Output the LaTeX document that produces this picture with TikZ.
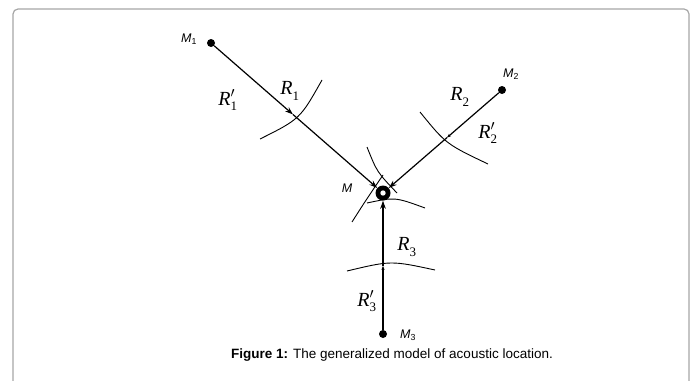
\documentclass[tikz,border=0pt]{standalone}
\usepackage{fontspec}
\setmainfont{Liberation Sans}
\newfontfamily\tms{Liberation Serif}
\newcommand\Rlab[2]{{\tms\itshape R}\ensuremath{^{#1}_{\mbox{\tms\fontsize{13}{13}\selectfont #2}}}}
\usetikzlibrary{arrows.meta}
\begin{document}
\begin{tikzpicture}[x=1pt,y=-1pt,
  conn/.style={line width=1.2pt},
  arr/.style={-{Stealth[length=8pt,width=5.5pt]}},
  sarr/.style={-{Stealth[length=4pt,width=3pt]}},
  arcline/.style={line width=0.9pt},
  dot/.style={circle,fill=black,inner sep=0pt,minimum size=8pt},
  lab/.style={inner sep=0pt},
  mlab/.style={lab,font=\fontsize{12.5}{14}\selectfont\itshape},
  rlab/.style={lab,font=\fontsize{20}{22}\selectfont}]
\useasboundingbox (0,0) rectangle (695,380);
\begin{scope}
\clip (0,0) rectangle (695,380);
\draw[black!35, line width=1.2pt, rounded corners=5pt] (13,400) -- (13,9) -- (689,9) -- (689,400);
\end{scope}
% stations
\node[dot] (M1) at (211,43) {};
\node[dot] (M2) at (502,90) {};
\node[dot] (M3) at (383,334) {};
\node[circle,fill=black,minimum size=15pt,inner sep=0pt] (M) at (383,193) {};
\fill[white] (M.center) circle (2.7);
% intersection points
\coordinate (P1) at (293,114.5);
\coordinate (P2) at (447,137.6);
\coordinate (P3) at (383,265.8);
% arcs
\draw[arcline] (260,139) .. controls (300,119) .. (322,80);
\draw[arcline] (420,112) .. controls (446,144) .. (488,164);
\draw[arcline] (347,271) .. controls (391,260.5) .. (435,270);
\draw[arcline] (367,147) .. controls (377,172) .. (397,193);
\draw[arcline] (352,222) .. controls (366,200) .. (383,175);
\draw[arcline] (367,203) .. controls (395,197) .. (425,208);
% connectors
\draw[conn,arr] (M1) -- (P1);
\draw[conn,arr] (P1) -- (M);
\draw[conn,sarr] (M2) -- (P2);
\draw[conn,arr] (P2) -- (M);
\draw[conn,sarr] (M3) -- (P3);
\draw[conn,arr] (P3) -- (M);
% labels
\node[mlab] (l1) at (189,39) {M\textsubscript{\upshape 1}};
\node[mlab] (l2) at (511,74) {M\textsubscript{\upshape 2}};
\node[mlab] (l3) at (408,335) {M\textsubscript{\upshape 3}};
\node[mlab] (lm) at (347,188) {M};
\node[rlab] (r1p) at (228,100) {\Rlab{\prime}{1}};
\node[rlab] (r1) at (290,91) {\Rlab{}{1}};
\node[rlab] (r2) at (460,97) {\Rlab{}{2}};
\node[rlab] (r2p) at (488,133) {\Rlab{\prime}{2}};
\node[rlab] (r3) at (407,247) {\Rlab{}{3}};
\node[rlab] (r3p) at (367,301) {\Rlab{\prime}{3}};
\node[lab,font=\fontsize{13.5}{16}\selectfont] (cap) at (392,355) {\textbf{Figure 1:} The generalized model of acoustic location.};
\end{tikzpicture}
\end{document}
